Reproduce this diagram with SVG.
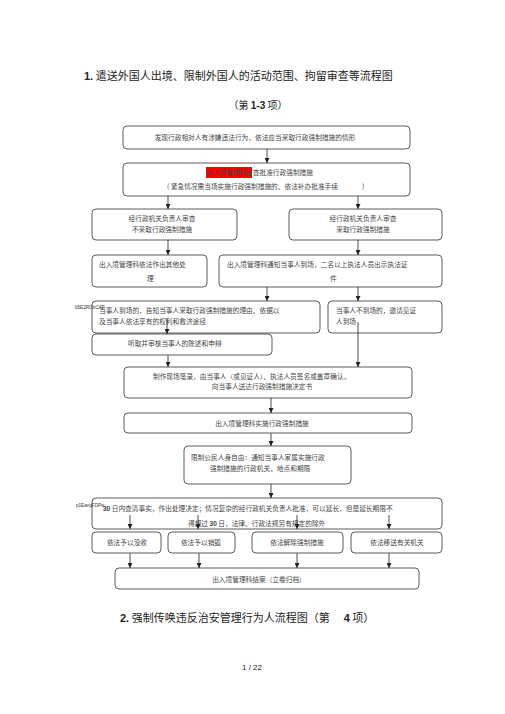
<svg xmlns="http://www.w3.org/2000/svg" width="505" height="714" viewBox="0 0 505 714">
<style>
.bx{fill:#fff;stroke:#333;stroke-width:0.8}
.t{font-family:"Noto Sans CJK SC","Noto Sans",sans-serif;font-size:6.7px;fill:#444}
.m{text-anchor:middle}
.h{font-family:"Noto Sans CJK SC","Noto Sans",sans-serif;font-size:11px;fill:#222}
.b{font-family:"Liberation Sans",sans-serif;font-weight:bold}
.w{font-family:"Liberation Sans",sans-serif;font-size:4.6px;fill:#333}
.c line{stroke:#222;stroke-width:0.8;marker-end:url(#ah)}
</style>
<defs>
<marker id="ah" viewBox="0 0 10 10" refX="10" refY="5" markerWidth="5" markerHeight="5" markerUnits="userSpaceOnUse" orient="auto">
<path d="M0,0L10,5L0,10z" fill="#222"/>
</marker>
</defs>
<rect width="505" height="714" fill="#fff"/>
<text class="h" x="84" y="80"><tspan class="b">1.</tspan> 遣送外国人出境、限制外国人的活动范围、拘留审查等流程图</text>
<text class="h m" x="258" y="109" style="font-size:10px">（第 <tspan class="b">1-3</tspan> 项）</text>

<g id="n1"><rect class="bx" x="123" y="126" width="287" height="23" rx="4"/><text class="t m" x="255" y="139.5">发现行政相对人有涉嫌违法行为，依法应当采取行政强制措施的情形</text></g>
<g id="n2"><rect class="bx" x="123" y="163" width="287" height="33" rx="4"/><rect x="206" y="167" width="46" height="11" fill="#f00"/><text class="t" x="206" y="174.5">出入境管理科审查批准行政强制措施</text><text class="t" x="167" y="188.5">( 紧急情况需当场实施行政强制措施的、依法补办批准手续</text><text class="t" x="362" y="188.5">)</text></g>
<g id="n3"><rect class="bx" x="92" y="209" width="145" height="31" rx="4"/><text class="t m" x="162" y="220.5">经行政机关负责人审查</text><text class="t m" x="162" y="231.5">不采取行政强制措施</text></g>
<g id="n4"><rect class="bx" x="289" y="209" width="153" height="31" rx="4"/><text class="t m" x="363" y="220.5">经行政机关负责人审查</text><text class="t m" x="363" y="231.5">采取行政强制措施</text></g>
<g id="n5"><rect class="bx" x="92" y="255" width="115" height="32" rx="4"/><text class="t" x="99" y="266.5">出入境管理科依法作出其他处</text><text class="t" x="147" y="280.5">理</text></g>
<g id="n6"><rect class="bx" x="219" y="255" width="223" height="32" rx="4"/><text class="t" x="227" y="266.5">出入境管理科通知当事人到场，二名以上执法人员出示执法证</text><text class="t" x="330" y="280.5">件</text></g>
<g id="n7"><rect class="bx" x="92" y="301" width="228" height="32" rx="4"/><text class="t" x="99" y="312.5">当事人到场的，告知当事人采取行政强制措施的理由、依据以</text><text class="t" x="99" y="323.5">及当事人依法享有的权利和救济途径</text></g>
<text class="w" x="75" y="308.5">b5E2RGbCAP</text>
<g id="n8"><rect class="bx" x="328" y="301" width="114" height="32" rx="4"/><text class="t" x="336" y="312.5">当事人不到场的，邀请见证</text><text class="t" x="336" y="323.5">人到场</text></g>
<g id="n9"><rect class="bx" x="92" y="334" width="180" height="21" rx="4"/><text class="t" x="128" y="345.5">听取并审核当事人的陈述和申辩</text></g>
<g id="n10"><rect class="bx" x="124" y="367" width="288" height="31" rx="4"/><text class="t" x="153" y="378.5">制作现场笔录，由当事人（或见证人）、执法人员签名或盖章确认，</text><text class="t m" x="262" y="388.5">向当事人送达行政强制措施决定书</text></g>
<g id="n11"><rect class="bx" x="124" y="413" width="288" height="20" rx="4"/><text class="t m" x="262" y="425.5">出入境管理科实施行政强制措施</text></g>
<g id="n12"><rect class="bx" x="184" y="446" width="167" height="38" rx="4"/><text class="t" x="191" y="459.5">限制公民人身自由：通知当事人家属实施行政</text><text class="t" x="210" y="470.5">强制措施的行政机关、地点和期限</text></g>
<g id="n13"><rect class="bx" x="92" y="498" width="350" height="31" rx="4"/><text class="t" x="103" y="510.5"><tspan class="b" style="font-size:6.5px">30</tspan> 日内查清事实，作出处理决定；情况复杂的经行政机关负责人批准，可以延长，但是延长期限不</text><text class="t" x="188" y="525.5">得超过 <tspan class="b" style="font-size:6.5px">30</tspan> 日，法律、行政法规另有规定的除外</text></g>
<text class="w" x="76" y="507">p1EanqFDPw</text>
<g id="n14"><rect class="bx" x="92" y="532" width="69" height="21" rx="4"/><text class="t m" x="127" y="545">依法予以没收</text></g>
<g id="n15"><rect class="bx" x="168" y="532" width="67" height="21" rx="4"/><text class="t m" x="201" y="545">依法予以销毁</text></g>
<g id="n16"><rect class="bx" x="252" y="532" width="91" height="21" rx="4"/><text class="t m" x="297" y="545">依法解除强制措施</text></g>
<g id="n17"><rect class="bx" x="351" y="532" width="91" height="21" rx="4"/><text class="t m" x="397" y="545">依法移送有关机关</text></g>
<g id="n18"><rect class="bx" x="115" y="568" width="304" height="21" rx="4"/><text class="t m" x="259" y="581.5">出入境管理科结案（立卷归档）</text></g>

<g class="c" id="connectors">
<line x1="267" y1="149" x2="267" y2="163"/>
<line x1="168" y1="196" x2="168" y2="209"/>
<line x1="358" y1="196" x2="358" y2="209"/>
<line x1="168" y1="240" x2="168" y2="255"/>
<line x1="358" y1="240" x2="358" y2="255"/>
<line x1="267" y1="287" x2="267" y2="301"/>
<line x1="358" y1="287" x2="358" y2="301"/>
<line x1="167" y1="318" x2="167" y2="334"/>
<line x1="358" y1="322" x2="358" y2="367"/>
<line x1="168" y1="355" x2="168" y2="367"/>
<line x1="271" y1="398" x2="271" y2="413"/>
<line x1="271" y1="433" x2="271" y2="446"/>
<line x1="271" y1="484" x2="271" y2="498"/>
<line x1="130" y1="515" x2="130" y2="529"/>
<line x1="198" y1="515" x2="198" y2="529"/>
<line x1="297" y1="515" x2="297" y2="529"/>
<line x1="389" y1="515" x2="389" y2="529"/>
<line x1="130" y1="553" x2="130" y2="568"/>
<line x1="199" y1="553" x2="199" y2="568"/>
<line x1="297" y1="553" x2="297" y2="568"/>
<line x1="389" y1="553" x2="389" y2="568"/>
</g>

<text class="h" x="120" y="622"><tspan class="b">2.</tspan> 强制传唤违反治安管理行为人流程图（第<tspan dx="14" class="b">4</tspan> 项）</text>
<text x="252" y="670" style="font-family:'Liberation Sans',sans-serif;font-size:8px;fill:#222;text-anchor:middle">1 / 22</text>
</svg>
